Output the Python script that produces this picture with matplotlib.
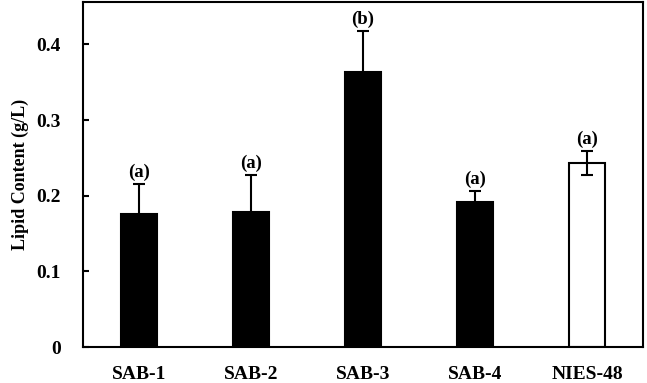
import matplotlib
matplotlib.use("Agg")
import matplotlib.pyplot as plt

strains = ["SAB-1", "SAB-2", "SAB-3", "SAB-4", "NIES-48"]
lipid = [0.176, 0.178, 0.363, 0.191, 0.243]
lipid_err = [0.040, 0.049, 0.055, 0.015, 0.016]
groups = ["(a)", "(a)", "(b)", "(a)", "(a)"]
colors = ["black", "black", "black", "black", "white"]

plt.rcParams["font.family"] = "Liberation Serif"
plt.rcParams["font.weight"] = "bold"

fig = plt.figure(figsize=(6.47, 3.83), dpi=100)
ax = fig.add_axes([83 / 647, 36 / 383, 560 / 647, 345 / 383])

x = range(len(strains))
ax.bar(x, lipid, width=0.32, color=colors, edgecolor="black", linewidth=1.5,
       yerr=lipid_err, error_kw=dict(ecolor="black", elinewidth=1.5, capsize=4, capthick=1.5))

for i, (v, e, g) in enumerate(zip(lipid, lipid_err, groups)):
    ax.text(i, v + e + 0.004, g, ha="center", va="bottom", fontsize=13.5, fontweight="bold")

ax.set_xlim(-0.5, 4.5)
ax.set_ylim(0, 0.456)
ax.set_xticks(list(x))
ax.set_xticklabels(strains, fontsize=14, fontweight="bold")
ax.set_yticks([0, 0.1, 0.2, 0.3, 0.4])
ax.set_yticklabels(["0", "0.1", "0.2", "0.3", "0.4"], fontsize=14, fontweight="bold")
ax.tick_params(axis="y", direction="in", length=4, width=1.5, pad=16)
ax.tick_params(axis="x", length=0, pad=14)
ax.set_ylabel("Lipid Content (g/L)", fontsize=13, fontweight="bold", labelpad=5)
for s in ax.spines.values():
    s.set_linewidth(1.5)

fig.savefig("out.png", dpi=100)
